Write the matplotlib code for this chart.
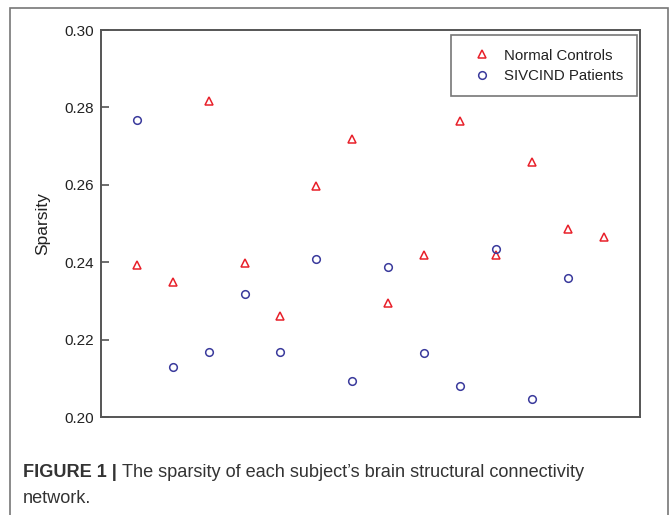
import matplotlib
matplotlib.use("Agg")
import matplotlib.pyplot as plt
from matplotlib.patches import Rectangle

subjects = list(range(1, 15))
normal_controls = [0.2393, 0.2349, 0.2817, 0.2399, 0.2262, 0.2598, 0.2718,
                   0.2295, 0.2419, 0.2764, 0.2419, 0.2659, 0.2486, 0.2465]
sivcind_patients = [0.2767, 0.2129, 0.2168, 0.2318, 0.2168, 0.2408, 0.2093,
                    0.2388, 0.2165, 0.2080, 0.2434, 0.2047, 0.2359]
yticks = [0.20, 0.22, 0.24, 0.26, 0.28, 0.30]
ytick_labels = ["0.20", "0.22", "0.24", "0.26", "0.28", "0.30"]

plt.rcParams['font.family'] = ['Liberation Sans', 'DejaVu Sans']

W, H = 670, 515
fig = plt.figure(figsize=(W / 100, H / 100), dpi=100)
ax = fig.add_axes([100.7 / W, 1 - 417 / H, (640 - 100.7) / W, (417 - 30) / H])

ax.plot(subjects, normal_controls, linestyle='none', marker='^', markersize=6,
        markerfacecolor='none', markeredgecolor='#e8202a', markeredgewidth=1.1,
        label='Normal Controls')
ax.plot(subjects[:len(sivcind_patients)], sivcind_patients, linestyle='none', marker='o',
        markersize=5.5, markerfacecolor='none', markeredgecolor='#3a3a9c',
        markeredgewidth=1.1, label='SIVCIND Patients')

ax.set_xlim(0, 15)
ax.set_ylim(0.20, 0.30)
ax.set_xticks([])
ax.set_yticks(yticks)
ax.set_yticklabels(ytick_labels)
ax.tick_params(axis='y', direction='in', length=6, width=1.2, colors='#555555',
               labelcolor='#222222', labelsize=11, pad=5)
for s in ax.spines.values():
    s.set_color('#555555')
    s.set_linewidth(1.4)
ax.set_ylabel('Sparsity', fontsize=12.5, color='#222222', labelpad=10)

leg = ax.legend(loc='upper right', bbox_to_anchor=(0.9945, 0.987), fontsize=10.8,
                frameon=True, fancybox=False, borderpad=0.9, handletextpad=0.35,
                labelspacing=0.42, handlelength=2.3, borderaxespad=0)
leg.get_frame().set_edgecolor('#555555')
leg.get_frame().set_linewidth(1.2)
for t in leg.get_texts():
    t.set_color('#222222')

# outer frame
fig.patches.append(Rectangle((9.5 / W, -0.05), (668 - 9.5) / W, 1 - 7.5 / H + 0.05,
                             transform=fig.transFigure, fill=False,
                             edgecolor='#777777', linewidth=1.2))

t1 = fig.text(23 / W, 1 - 477 / H, 'FIGURE 1 | ', fontsize=13.1, fontweight='bold',
              color='#333333', va='baseline', ha='left')
fig.canvas.draw()
bb = t1.get_window_extent()
fig.text(bb.x1 / W, 1 - 477 / H, 'The sparsity of each subject\u2019s brain structural connectivity',
         fontsize=13.1, color='#333333', va='baseline', ha='left')
fig.text(23 / W, 1 - 503 / H, 'network.', fontsize=13.1, color='#333333',
         va='baseline', ha='left')

fig.savefig('out.png', dpi=100)
